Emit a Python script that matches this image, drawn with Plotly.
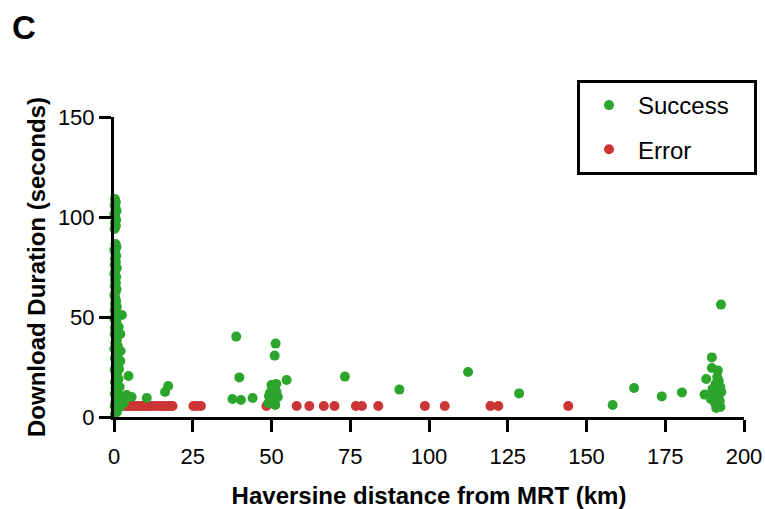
import plotly.graph_objects as go

# Successful downloads: distance from MRT (km) and download duration (s)
# Points hugging the MRT (distance ~0 km)
near_x = [0.3, 0.6, 0.2, 0.5, 0.8, 0.1, 0.4, 0.7, 0.3, 0.6,
          0.2, 0.5, 0.8, 0.1, 0.4, 0.7, 0.3, 0.6, 0.2, 0.9,
          0.4, 0.1, 0.7, 0.3, 0.6, 0.2, 0.8, 0.5, 0.1, 0.4,
          0.7, 0.3, 0.9, 0.2, 0.6, 0.4, 0.1, 0.8, 0.5, 0.3,
          1.0, 0.2, 0.6, 0.9, 0.4, 1.2, 0.1, 0.7, 1.1, 0.3,
          0.8, 1.3, 0.5, 0.2, 1.0, 0.6, 1.4, 0.3, 0.9, 0.5,
          1.2, 0.2, 0.7, 1.5, 0.4]
near_y = [109, 107.5, 106, 104.5, 103, 101.5, 100, 98.5, 97, 95.5,
          94, 86.5, 85, 83.5, 82, 80.5, 79, 77.5, 76, 74.5,
          73, 71.5, 70, 68.5, 67, 65.5, 64, 62.5, 61, 59.5,
          58, 56.5, 55, 53.5, 52, 50.5, 49, 47.5, 46, 44.5,
          43, 41.5, 40, 38.5, 37, 35.5, 34, 32.5, 31, 29.5,
          28, 26.5, 25, 23.5, 22, 20.5, 19, 17.5, 16, 14.5,
          13, 11.5, 10, 8.5, 7]
near_x += [0.2, 0.6, 0.9, 0.3, 2.5, 2.0, 2.1, 2.0, 4.6, 1.5,
           1.6, 1.8, 2.6, 3.1, 1.9, 4.0, 5.6, 10.4, 16.2, 17.2]
near_y += [5.5, 4, 2.5, 1.5, 51, 41.5, 33, 28, 20.5, 45,
           24, 15, 10, 7, 5, 11, 10, 9.5, 12.5, 15.5]

# Successful downloads further out along the line
far_x = [38.8, 39.8, 37.6, 40.3, 44.0, 51.3, 51.0, 54.8, 73.3,
         49.0, 50.0, 50.2, 50.6, 51.0, 51.5, 49.5, 51.0, 50.2, 51.2,
         52.0, 50.0, 49.2, 51.6,
         90.6, 112.4, 128.6,
         158.3, 165.1, 173.9, 180.3, 192.7, 189.8, 189.8, 191.7, 188.0, 187.5,
         191.5, 192.0, 191.0, 192.5, 191.8, 190.5, 192.0, 191.0, 192.3, 190.8,
         191.5, 192.5, 189.5, 190.0, 192.8, 191.2]
far_y = [40.2, 19.8, 9, 8.5, 9.5, 36.7, 30.7, 18.5, 20.2,
         7, 9, 11, 13, 15, 16.5, 12, 8, 14.5, 6,
         10, 16, 10.5, 12.5,
         13.7, 22.5, 11.8,
         6, 14.5, 10.3, 12.3, 56.2, 29.8, 24.5, 23.2, 19, 11.2,
         20, 18, 16.5, 15, 13.5, 12, 11, 9.5, 8, 7,
         6, 5, 9, 14, 12.5, 4.5]

success_x = near_x + far_x
success_y = near_y + far_y

# Failed downloads (errors), recorded at the timeout floor
error_x = [1.8, 2.5, 3.2, 4.0, 4.8, 5.6, 6.4, 7.2, 8.0, 8.8,
           9.6, 10.4, 11.2, 12.0, 12.8, 13.6, 14.6, 15.4, 16.2, 17.0,
           17.8, 18.6, 25.2, 26.3, 27.6, 48.4, 58.0, 62.0, 66.6, 70.0,
           76.8, 78.7, 83.9, 98.7, 105.0, 119.5, 122.0, 144.2]
error_y = [5.5] * len(error_x)

x_ticks = [0, 25, 50, 75, 100, 125, 150, 175, 200]
y_ticks = [0, 50, 100, 150]

GREEN = "#2BA52B"
RED = "#CC3535"
FONT = "Liberation Sans, Arial, sans-serif"
PAD = "\u00a0" * 3  # right-hand breathing room inside the legend box

# Page geometry (pixels): the paper area is kept large enough to hold the
# legend, and the axes are placed inside it through their domains.
W, H = 765, 509
M_L, M_R, M_T, M_B = 114, 5, 5, 92
PAPER_W = W - M_L - M_R
PAPER_H = H - M_T - M_B
PLOT_RIGHT_PX = 744
PLOT_TOP_PX = 117


def px_to_paper_x(px):
    return (px - M_L) / PAPER_W


def px_to_paper_y(py):
    return (H - M_B - py) / PAPER_H


fig = go.Figure()
fig.add_trace(go.Scatter(
    x=error_x, y=error_y, mode="markers", name="Error" + PAD,
    marker=dict(color=RED, size=10, line=dict(width=0)),
    cliponaxis=False, legendrank=2, legendgroup="err",
))
fig.add_trace(go.Scatter(
    x=success_x, y=success_y, mode="markers", name="Success" + PAD,
    marker=dict(color=GREEN, size=10, line=dict(width=0)),
    cliponaxis=False, legendrank=1, legendgroup="ok",
))

axis_common = dict(
    showline=True, linecolor="black", linewidth=3,
    ticks="outside", ticklen=12, tickwidth=3, tickcolor="black",
    showgrid=False, zeroline=False, automargin=False,
    tickfont=dict(family=FONT, size=22, color="black"),
)

fig.update_layout(
    template="none",
    width=W, height=H,
    margin=dict(l=M_L, r=M_R, t=M_T, b=M_B, autoexpand=False),
    plot_bgcolor="white", paper_bgcolor="white",
    font=dict(family=FONT, color="black"),
    title=dict(text="C", x=12 / W, xanchor="left", xref="container",
               y=1 - 27 / H, yanchor="middle", yref="container",
               font=dict(family=FONT, size=33, weight="bold", color="black")),
    xaxis=dict(range=[0, 200], tickvals=x_ticks, ticklabelstandoff=6,
               domain=[0, px_to_paper_x(PLOT_RIGHT_PX)],
               title=dict(text="Haversine distance from MRT (km)",
                          font=dict(family=FONT, size=24, weight="bold"), standoff=22),
               **axis_common),
    yaxis=dict(range=[0, 150], tickvals=y_ticks,
               domain=[0, px_to_paper_y(PLOT_TOP_PX)],
               title=dict(text="Download Duration (seconds)",
                          font=dict(family=FONT, size=24, weight="bold"), standoff=6),
               **axis_common),
    legend=dict(x=px_to_paper_x(577), y=px_to_paper_y(80), xanchor="left", yanchor="top",
                bordercolor="black", borderwidth=3, bgcolor="white",
                font=dict(family=FONT, size=24, color="black"),
                traceorder="grouped", tracegroupgap=10, itemwidth=48),
    showlegend=True,
)

fig.write_html("out.html")
